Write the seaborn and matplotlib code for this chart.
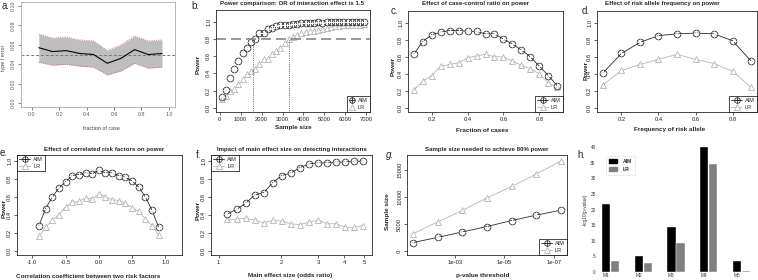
import numpy as np
import pandas as pd
import seaborn as sns
import matplotlib
matplotlib.use('Agg')
import matplotlib.pyplot as plt
from matplotlib.lines import Line2D
from matplotlib.patches import Patch

# ---- data ----
# a. type I error vs fraction of case
a_frac = [0.05, 0.15, 0.25, 0.35, 0.45, 0.55, 0.65, 0.75, 0.85, 0.95]
a_mean = [0.057, 0.053, 0.054, 0.051, 0.050, 0.041, 0.046, 0.055, 0.050, 0.051]
a_upper = [0.071, 0.067, 0.068, 0.065, 0.064, 0.054, 0.060, 0.069, 0.064, 0.065]
a_lower = [0.042, 0.039, 0.040, 0.038, 0.037, 0.029, 0.033, 0.041, 0.036, 0.037]

# b. power vs sample size
b_n = [100, 300, 500, 700, 900, 1100, 1300, 1500, 1700, 1900, 2100, 2300, 2500, 2700,
       2900, 3100, 3300, 3500, 3700, 3900, 4100, 4300, 4500, 4700, 4900, 5100, 5300,
       5500, 5700, 5900, 6100, 6300, 6500, 6700, 6900]
b_aim = [0.13, 0.21, 0.35, 0.45, 0.55, 0.64, 0.70, 0.77, 0.80, 0.87, 0.87, 0.92, 0.93, 0.95,
         0.96, 0.97, 0.97, 0.98, 0.98, 0.99, 0.99, 0.99, 0.99, 1.00, 0.99, 1.00, 1.00,
         1.00, 1.00, 1.00, 1.00, 1.00, 1.00, 1.00, 1.00]
b_lr = [0.10, 0.14, 0.19, 0.22, 0.28, 0.33, 0.39, 0.43, 0.45, 0.51, 0.57, 0.57, 0.63, 0.66,
        0.70, 0.76, 0.80, 0.82, 0.85, 0.87, 0.88, 0.89, 0.90, 0.91, 0.92, 0.93, 0.94,
        0.95, 0.95, 0.96, 0.96, 0.97, 0.97, 0.97, 0.98]
b_cut_aim = 1600
b_cut_lr = 3300

# c. case-control ratio
c_frac = [0.10, 0.15, 0.20, 0.25, 0.30, 0.35, 0.40, 0.45, 0.50, 0.55, 0.60, 0.65, 0.70,
          0.75, 0.80, 0.85, 0.90]
c_aim = [0.63, 0.78, 0.86, 0.89, 0.91, 0.91, 0.90, 0.90, 0.87, 0.87, 0.81, 0.75, 0.68,
         0.60, 0.49, 0.38, 0.26]
c_lr = [0.21, 0.31, 0.38, 0.49, 0.51, 0.53, 0.59, 0.61, 0.63, 0.60, 0.60, 0.55, 0.50,
        0.46, 0.40, 0.29, 0.24]

# d. risk allele frequency
d_freq = [0.1, 0.2, 0.3, 0.4, 0.5, 0.6, 0.7, 0.8, 0.9]
d_aim = [0.41, 0.64, 0.77, 0.85, 0.87, 0.88, 0.87, 0.79, 0.55]
d_lr = [0.27, 0.44, 0.51, 0.57, 0.63, 0.57, 0.52, 0.43, 0.24]

# e. correlated risk factors
e_rho = [-0.9, -0.8, -0.7, -0.6, -0.5, -0.4, -0.3, -0.2, -0.1, 0.0, 0.1, 0.2, 0.3, 0.4,
         0.5, 0.6, 0.7, 0.8, 0.9]
e_aim = [0.28, 0.47, 0.60, 0.70, 0.77, 0.84, 0.85, 0.87, 0.86, 0.90, 0.87, 0.87, 0.84,
         0.82, 0.78, 0.71, 0.60, 0.45, 0.26]
e_lr = [0.16, 0.26, 0.34, 0.40, 0.49, 0.54, 0.55, 0.59, 0.58, 0.63, 0.60, 0.57, 0.56,
        0.53, 0.48, 0.44, 0.35, 0.28, 0.17]

# f. main effect size
f_or = [1.10, 1.22, 1.35, 1.49, 1.65, 1.82, 2.01, 2.23, 2.46, 2.72, 3.00, 3.32, 3.67,
        4.06, 4.48, 4.95]
f_aim = [0.41, 0.46, 0.53, 0.62, 0.65, 0.76, 0.84, 0.87, 0.93, 0.97, 0.98, 0.98, 0.99,
         0.99, 1.00, 1.00]
f_lr = [0.35, 0.35, 0.36, 0.34, 0.31, 0.34, 0.33, 0.30, 0.29, 0.32, 0.34, 0.30, 0.30,
        0.26, 0.26, 0.28]

# g. sample size for 80% power
g_p = [5e-2, 5e-3, 5e-4, 5e-5, 5e-6, 5e-7, 5e-8]
g_aim = [1600, 2550, 3550, 4550, 5650, 6650, 7550]
g_lr = [3200, 5400, 7500, 9800, 11900, 14200, 16600]

# h. -log10 p-values
h_model = ['M1', 'M2', 'M3', 'M4', 'M5']
h_aim = [21.9, 5.0, 14.4, 40.0, 3.6]
h_lr = [3.6, 2.9, 9.3, 34.7, 0.4]

# ---- style ----
sns.set_style('ticks')
plt.rcParams['font.family'] = ['Liberation Sans', 'DejaVu Sans']
plt.rcParams['axes.linewidth'] = 0.6
plt.rcParams['xtick.major.width'] = 0.5
plt.rcParams['ytick.major.width'] = 0.5
plt.rcParams['xtick.major.size'] = 2
plt.rcParams['ytick.major.size'] = 2
plt.rcParams['xtick.major.pad'] = 1.5
plt.rcParams['ytick.major.pad'] = 1.5
plt.rcParams['xtick.labelsize'] = 4.2
plt.rcParams['ytick.labelsize'] = 4.2
plt.rcParams['xtick.color'] = '#222222'
plt.rcParams['ytick.color'] = '#222222'

W, H = 758, 280
fig = plt.figure(figsize=(W / 100, H / 100), dpi=100)
fig.patch.set_facecolor('white')

DARK = '#2a2a2a'
LIGHT = '#b4b4b4'
MS = 4.8
TFS = 4.4  # title size
LFS = 4.6  # axis label size
PFS = 7    # panel letter


def box(l, t, r, b):
    return fig.add_axes([l / W, 1 - b / H, (r - l) / W, (b - t) / H])


def ftext(x, y, s, **kw):
    kw.setdefault('ha', 'center')
    kw.setdefault('va', 'center')
    fig.text(x / W, 1 - y / H, s, **kw)


def rotate_y(ax):
    for lab in ax.get_yticklabels():
        lab.set_rotation(90)
        lab.set_va('center')


def aim_lr(ax, x, aim, lr, line=True):
    ls = '-' if line else ''
    sns.lineplot(x=x, y=lr, ax=ax, color=LIGHT, lw=0.6, linestyle=ls, marker='^',
                 ms=MS, mfc='white', mec=LIGHT, mew=0.6)
    sns.lineplot(x=x, y=aim, ax=ax, color=DARK, lw=0.6, linestyle=ls, marker='o',
                 ms=MS, mfc='none', mec=DARK, mew=0.6)
    sns.lineplot(x=x, y=aim, ax=ax, color=DARK, linestyle='', marker='+',
                 ms=MS, mew=0.6)


def legend(ax, loc, line=True):
    ls = '-' if line else ''
    h_aim = (Line2D([], [], color=DARK, lw=0.6, ls=ls, marker='o', ms=4, mfc='none', mew=0.6),
             Line2D([], [], color=DARK, ls='', marker='+', ms=4, mew=0.6))
    h_lr = Line2D([], [], color=LIGHT, lw=0.6, ls=ls, marker='^', ms=4, mfc='white', mew=0.6)
    lg = ax.legend([h_aim, h_lr], ['AIM', 'LR'], loc=loc, fontsize=4, frameon=True,
                   fancybox=False, edgecolor='black', framealpha=1, borderaxespad=0,
                   handlelength=2.0 if line else 1.0, handletextpad=0.5, borderpad=0.4,
                   labelspacing=0.3)
    lg.get_frame().set_linewidth(0.5)


def power_axis(ax, ylim=(-0.05, 1.14)):
    ax.set_ylim(*ylim)
    ax.set_yticks([0.0, 0.2, 0.4, 0.6, 0.8, 1.0])
    ax.set_yticklabels(['0.0', '0.2', '0.4', '0.6', '0.8', '1.0'])
    ax.set_xlabel('')
    ax.set_ylabel('')
    rotate_y(ax)


# ---- a ----
ax = box(21, 2, 175, 107)
ax.fill_between(a_frac, a_lower, a_upper, color='#bebebe', lw=0)
sns.lineplot(x=a_frac, y=a_upper, ax=ax, color='#e05a5a', lw=0.6, linestyle=':')
sns.lineplot(x=a_frac, y=a_lower, ax=ax, color='#e05a5a', lw=0.6, linestyle=':')
ax.axhline(0.05, color='#777777', lw=0.7, ls='--', dashes=(3, 2))
sns.lineplot(x=a_frac, y=a_mean, ax=ax, color='black', lw=0.8)
ax.set_xlim(-0.08, 1.045)
ax.set_ylim(-0.004, 0.104)
ax.set_xticks([0.0, 0.2, 0.4, 0.6, 0.8, 1.0])
ax.set_xticklabels(['0.0', '0.2', '0.4', '0.6', '0.8', '1.0'])
ax.set_yticks([0.0, 0.02, 0.04, 0.06, 0.08, 0.10])
ax.set_yticklabels(['0.00', '0.02', '0.04', '0.06', '0.08', '0.10'])
ax.tick_params(colors='#555555', labelsize=3.8)
for s in ax.spines.values():
    s.set_color('#aaaaaa')
rotate_y(ax)
ftext(101, 129, 'fraction of case', fontsize=3.9, color='#444444')
ftext(4, 58, 'type I error', fontsize=3.9, color='#444444', rotation=90)
ftext(6, 6, 'a.', fontsize=PFS)

# ---- b ----
ax = box(216, 10, 370, 112)
aim_lr(ax, b_n, b_aim, b_lr, line=False)
ax.axhline(0.8, color='#888888', lw=1.2, ls='--', dashes=(6, 3))
ax.plot([b_cut_aim, b_cut_aim], [-1, 0.8], color='black', lw=0.5, ls=':')
ax.plot([b_cut_lr, b_cut_lr], [-1, 0.8], color='black', lw=0.5, ls=':')
ax.set_xlim(-172, 7172)
ax.set_xticks([0, 1000, 2000, 3000, 4000, 5000, 6000, 7000])
ax.set_xticklabels(['0', '1000', '2000', '3000', '4000', '5000', '6000', '7000'])
power_axis(ax)
legend(ax, 'lower right', line=False)
ftext(292, 4, 'Power comparison: OR of interaction effect is 1.5', fontsize=TFS, weight='bold')
ftext(293, 128, 'Sample size', fontsize=LFS, weight='bold')
ftext(198, 64, 'Power', fontsize=LFS, weight='bold', rotation=90)
ftext(195, 6, 'b.', fontsize=PFS)

# ---- c ----
ax = box(408, 11, 563, 112)
aim_lr(ax, c_frac, c_aim, c_lr)
ax.set_xlim(0.068, 0.932)
ax.set_xticks([0.2, 0.4, 0.6, 0.8])
ax.set_xticklabels(['0.2', '0.4', '0.6', '0.8'])
power_axis(ax)
legend(ax, 'lower right')
ftext(476, 4, 'Effect of case-control ratio on power', fontsize=TFS, weight='bold')
ftext(482, 130, 'Fraction of cases', fontsize=LFS, weight='bold')
ftext(393, 66, 'Power', fontsize=LFS, weight='bold', rotation=90)
ftext(394, 11, 'c.', fontsize=PFS)

# ---- d ----
ax = box(597, 11, 757, 112)
aim_lr(ax, d_freq, d_aim, d_lr)
ax.set_xlim(0.068, 0.932)
ax.set_xticks([0.2, 0.4, 0.6, 0.8])
ax.set_xticklabels(['0.2', '0.4', '0.6', '0.8'])
power_axis(ax)
legend(ax, 'lower right')
ftext(662, 4, 'Effect of risk allele frequency on power', fontsize=TFS, weight='bold')
ftext(670, 130, 'Frequency of risk allele', fontsize=LFS, weight='bold')
ftext(586, 70, 'Power', fontsize=LFS, weight='bold', rotation=90)
ftext(586, 11, 'd.', fontsize=PFS)

# ---- e ----
ax = box(17, 155, 182, 255)
aim_lr(ax, e_rho, e_aim, e_lr)
ax.set_xlim(-1.23, 1.25)
ax.set_xticks([-1.0, -0.5, 0.0, 0.5, 1.0])
ax.set_xticklabels(['-1.0', '-0.5', '0.0', '0.5', '1.0'])
power_axis(ax, (-0.05, 1.07))
legend(ax, 'upper left')
ftext(104, 150, 'Effect of correlated risk factors on power', fontsize=TFS, weight='bold')
ftext(88, 276, 'Correlation coefficient between two risk factors', fontsize=LFS, weight='bold')
ftext(4, 208, 'Power', fontsize=LFS, weight='bold', rotation=90)
ftext(4, 153, 'e.', fontsize=PFS)

# ---- f ----
ax = box(211, 155, 372, 255)
ax.set_xscale('log')
aim_lr(ax, f_or, f_aim, f_lr)
ax.set_xlim(0.92, 5.45)
ax.set_xticks([1, 2, 3, 4, 5])
ax.set_xticklabels(['1', '2', '3', '4', '5'])
ax.xaxis.set_minor_locator(matplotlib.ticker.NullLocator())
power_axis(ax, (-0.05, 1.07))
legend(ax, 'upper left')
ftext(292, 150, 'Impact of main effect size on detecting interactions', fontsize=TFS, weight='bold')
ftext(290, 276, 'Main effect size (odds ratio)', fontsize=LFS, weight='bold')
ftext(198, 210, 'Power', fontsize=LFS, weight='bold', rotation=90)
ftext(199, 155, 'f.', fontsize=PFS)

# ---- g ----
ax = box(407, 155, 567, 255)
ax.set_xscale('log')
aim_lr(ax, g_p, g_aim, g_lr)
ax.set_xlim(10 ** -1.06, 10 ** -7.54)
ax.set_xticks([1e-3, 1e-5, 1e-7])
ax.set_xticklabels(['1e-03', '1e-05', '1e-07'])
ax.xaxis.set_minor_locator(matplotlib.ticker.NullLocator())
ax.set_ylim(-680, 17680)
ax.set_yticks([0, 5000, 10000, 15000])
ax.set_yticklabels(['0', '5000', '10000', '15000'])
ax.set_xlabel('')
ax.set_ylabel('')
rotate_y(ax)
legend(ax, 'lower right')
ftext(487, 150, 'Sample size needed to achieve 80% power', fontsize=TFS, weight='bold')
ftext(483, 275, 'p-value threshold', fontsize=LFS, weight='bold')
ftext(388, 212, 'Sample size', fontsize=LFS, weight='bold', rotation=90)
ftext(390, 155, 'g.', fontsize=PFS, style='italic')

# ---- h ----
ax = box(597, 147, 755, 272)
pos = np.arange(len(h_model))
sns.barplot(x=pos.astype(float), y=h_aim, ax=ax, native_scale=True, width=0.25,
            color='black', saturation=1, edgecolor='white', linewidth=0.3)
sns.barplot(x=pos + 0.28, y=h_lr, ax=ax, native_scale=True, width=0.25,
            color='#808080', saturation=1, edgecolor='white', linewidth=0.3)
ax.set_xlim(-0.27, 4.55)
ax.set_ylim(0, 40)
ax.set_xticks(pos)
ax.set_xticklabels(h_model)
ax.set_yticks(range(0, 41, 5))
ax.tick_params(length=0, labelsize=3.4, colors='#333333', pad=1)
for s in ax.spines.values():
    s.set_visible(False)
ax.set_xlabel('')
ax.set_ylabel('')
lg = ax.legend([Patch(color='black'), Patch(color='#808080')], ['AIM', 'LR'],
               loc='upper left', bbox_to_anchor=(0.04, 0.95), fontsize=3.6, frameon=True,
               fancybox=False, edgecolor='#dddddd', framealpha=1, handlelength=1.6,
               handleheight=0.9, borderpad=0.6, labelspacing=0.6, handletextpad=1.2)
lg.get_frame().set_linewidth(0.4)
for t in lg.get_texts():
    t.set_weight('bold')
ftext(585, 210, '-log10(p-value)', fontsize=3.4, rotation=90, color='#333333')
ftext(581, 155, 'h.', fontsize=PFS)

fig.savefig('out.png', dpi=100, facecolor='white')
